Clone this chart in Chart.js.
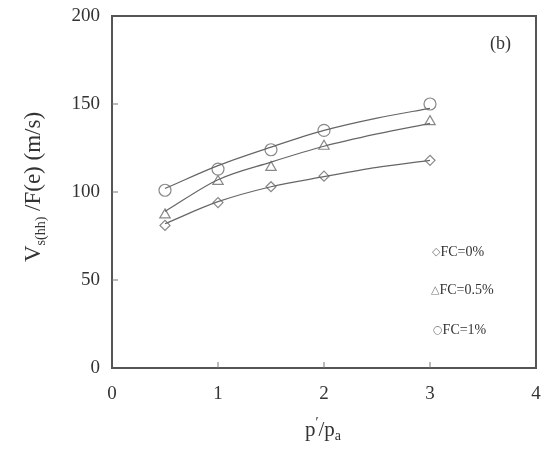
<!DOCTYPE html>
<html>
<head>
<meta charset="utf-8">
<script src="https://cdn.jsdelivr.net/npm/chart.js@4"></script>
<style>
  html, body { margin: 0; padding: 0; background: #fff; }
  #wrap { width: 546px; height: 451px; }
</style>
</head>
<body>
<div id="wrap"><canvas id="myChart" width="546" height="451"></canvas></div>
<script>
// measured points
const xValues = [0.5, 1, 1.5, 2, 3];
const fc0 = [81, 94, 103, 109, 118];
const fc05 = [87, 106, 114, 126, 140];
const fc1 = [101, 113, 124, 135, 150];

// fitted curves
const fitX = [0.5, 1, 1.5, 2, 2.5, 3];
const fit0 = [82, 94.5, 103, 108.7, 114, 118];
const fit05 = [89, 107, 117, 126, 133, 139];
const fit1 = [102, 115, 125.5, 135, 142, 147.5];

const xTicks = [0, 1, 2, 3, 4];
const yTicks = [0, 50, 100, 150, 200];
const legendSymbols = ['\u25C7', '\u25B3', '\u25CB'];
const legendLabels = ['FC=0%', 'FC=0.5%', 'FC=1%'];

const serif = '"Liberation Serif", "DejaVu Serif", serif';
const lineColor = '#666';
const markColor = '#888';

function pts(xs, ys) {
    return xs.map((x, i) => ({ x: x, y: ys[i] }));
}

function markSet(data, style, radius) {
    return {
        type: 'scatter',
        data: data,
        pointStyle: style,
        pointRadius: radius,
        pointBorderColor: markColor,
        pointBackgroundColor: 'rgba(255,255,255,0)',
        pointBorderWidth: 1.2,
        showLine: false
    };
}

function fitSet(data) {
    return {
        type: 'line',
        data: data,
        borderColor: lineColor,
        borderWidth: 1.2,
        pointRadius: 0,
        tension: 0.4,
        cubicInterpolationMode: 'monotone',
        fill: false
    };
}

const decoPlugin = {
    id: 'deco',
    afterDraw(chart) {
        const ctx = chart.ctx;
        const a = chart.chartArea;
        const xs = chart.scales.x;
        const ys = chart.scales.y;
        ctx.save();

        // frame
        ctx.strokeStyle = '#555';
        ctx.lineWidth = 2;
        ctx.strokeRect(a.left, a.top, a.right - a.left, a.bottom - a.top);

        // inward ticks
        ctx.lineWidth = 1;
        ctx.strokeStyle = '#777';
        xTicks.slice(1, -1).forEach(v => {
            const p = xs.getPixelForValue(v);
            ctx.beginPath();
            ctx.moveTo(p, a.bottom);
            ctx.lineTo(p, a.bottom - 6);
            ctx.stroke();
        });
        yTicks.slice(1, -1).forEach(v => {
            const p = ys.getPixelForValue(v);
            ctx.beginPath();
            ctx.moveTo(a.left, p);
            ctx.lineTo(a.left + 6, p);
            ctx.stroke();
        });

        ctx.fillStyle = '#333';

        // y title
        ctx.save();
        ctx.translate(40, 187);
        ctx.rotate(-Math.PI / 2);
        ctx.textBaseline = 'alphabetic';
        ctx.textAlign = 'left';
        const parts = [
            ['V', 23, 0],
            ['s(hh)', 14, 5],
            [' /F(e) (m/s)', 23, 0]
        ];
        let total = 0;
        parts.forEach(p => {
            ctx.font = p[1] + 'px ' + serif;
            total += ctx.measureText(p[0]).width;
        });
        let cx = -total / 2;
        parts.forEach(p => {
            ctx.font = p[1] + 'px ' + serif;
            ctx.fillText(p[0], cx, p[2]);
            cx += ctx.measureText(p[0]).width;
        });
        ctx.restore();

        // x title p'/pa
        const xparts = [
            ['p', 21, 0],
            ['\u2032', 14, -9],
            ['/p', 21, 0],
            ['a', 14, 4]
        ];
        let xt = 0;
        xparts.forEach(p => {
            ctx.font = p[1] + 'px ' + serif;
            xt += ctx.measureText(p[0]).width;
        });
        let px = 323 - xt / 2;
        xparts.forEach(p => {
            ctx.font = p[1] + 'px ' + serif;
            ctx.fillText(p[0], px, 436 + p[2]);
            px += ctx.measureText(p[0]).width;
        });

        // legend
        ctx.textAlign = 'left';
        ctx.textBaseline = 'middle';
        const legY = [252, 290, 330];
        const legX = [432, 431, 433];
        legendLabels.forEach((t, i) => {
            ctx.font = '11px "DejaVu Sans", sans-serif';
            ctx.fillStyle = '#777';
            ctx.fillText(legendSymbols[i], legX[i], legY[i]);
            const w = ctx.measureText(legendSymbols[i]).width;
            ctx.font = '14px ' + serif;
            ctx.fillStyle = '#333';
            ctx.fillText(t, legX[i] + w, legY[i]);
        });

        // panel label
        ctx.font = '18px ' + serif;
        ctx.fillText('(b)', 490, 44);

        ctx.restore();
    }
};

const ctx = document.getElementById('myChart').getContext('2d');
const myChart = new Chart(ctx, {
    data: {
        datasets: [
            fitSet(pts(fitX, fit0)),
            fitSet(pts(fitX, fit05)),
            fitSet(pts(fitX, fit1)),
            markSet(pts(xValues, fc0), 'rectRot', 5),
            markSet(pts(xValues, fc05), 'triangle', 6),
            markSet(pts(xValues, fc1), 'circle', 6)
        ]
    },
    options: {
        responsive: false,
        animation: false,
        layout: { padding: { top: 16, right: 10, left: 0, bottom: 0 } },
        plugins: {
            legend: { display: false },
            tooltip: { enabled: false }
        },
        scales: {
            x: {
                type: 'linear',
                min: 0,
                max: 4,
                afterBuildTicks: s => { s.ticks = xTicks.map(v => ({ value: v })); },
                afterFit: s => { s.height = 83; s.paddingLeft = 0; s.paddingRight = 0; },
                grid: { display: false, drawTicks: false },
                border: { display: false },
                ticks: {
                    padding: 15,
                    color: '#333',
                    font: { family: serif, size: 19 }
                }
            },
            y: {
                type: 'linear',
                min: 0,
                max: 200,
                afterBuildTicks: s => { s.ticks = yTicks.map(v => ({ value: v })); },
                afterFit: s => { s.width = 112; s.paddingTop = 0; s.paddingBottom = 0; },
                grid: { display: false, drawTicks: false },
                border: { display: false },
                ticks: {
                    padding: 12,
                    color: '#333',
                    font: { family: serif, size: 19 }
                }
            }
        }
    },
    plugins: [decoPlugin]
});
</script>
</body>
</html>
